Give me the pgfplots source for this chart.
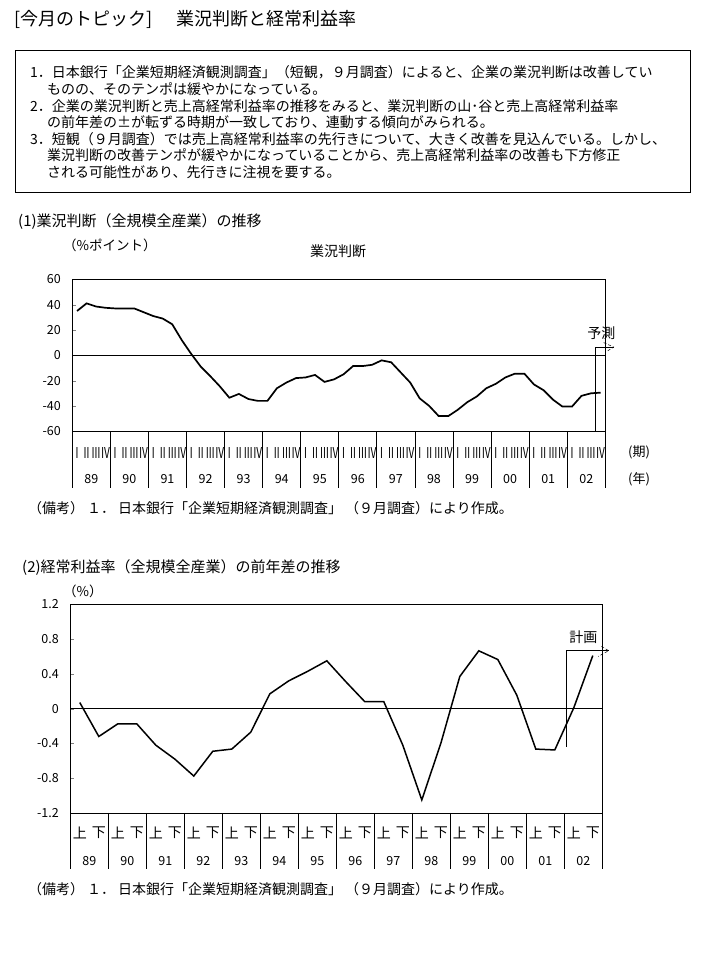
\documentclass[border=0pt]{standalone}
\usepackage{fontspec}
\setmainfont{Noto Sans CJK JP}
\newfontfamily\narrowfont[FakeStretch=0.66]{Noto Sans CJK JP}
\usepackage{pgfplots}
\pgfplotsset{compat=1.18}

\newcommand{\fs}[1]{\fontsize{#1}{#1}\selectfont}

\pgfplotsset{
  jpaxis/.style={
    scale only axis, anchor=south west, clip=false,
    axis line style={line width=0.8pt},
    tick align=inside, major tick length=3.5pt,
    ytick pos=left, xtick pos=bottom,
    xtick style={draw=none},
    tick label style={font=\fs{12.5}},
    yticklabel style={xshift=-8pt},
    /pgf/number format/assume math mode=true,
  }
}

\begin{document}
\begin{tikzpicture}[txt/.style={anchor=west, inner sep=0pt}]
\useasboundingbox (0,0) rectangle (707pt,959pt);

% title and summary box
\node[txt, font=\fs{18}] at (14pt,940pt) {[今月のトピック]};
\node[txt, font=\fs{18}] at (176pt,940pt) {業況判断と経常利益率};
\draw[line width=0.8pt] (15pt,909pt) rectangle (690pt,767pt);
\begin{scope}[every node/.append style={font=\fs{14}}]
\node[txt] at (30pt,887pt) {1．日本銀行「企業短期経済観測調査」（短観，９月調査）によると、企業の業況判断は改善してい};
\node[txt] at (47pt,870pt) {ものの、そのテンポは緩やかになっている。};
\node[txt] at (30pt,853pt) {2．企業の業況判断と売上高経常利益率の推移をみると、業況判断の山･谷と売上高経常利益率};
\node[txt] at (47pt,837pt) {の前年差の±が転ずる時期が一致しており、連動する傾向がみられる。};
\node[txt] at (30pt,820pt) {3．短観（９月調査）では売上高経常利益率の先行きについて、大きく改善を見込んでいる。しかし、};
\node[txt] at (47pt,804pt) {業況判断の改善テンポが緩やかになっていることから、売上高経常利益率の改善も下方修正};
\node[txt] at (47pt,787pt) {される可能性があり、先行きに注視を要する。};
\end{scope}

% ---- chart 1 ----
\node[txt, font=\fs{15}] at (18pt,737pt) {(1)業況判断（全規模全産業）の推移};
\node[txt, font=\fs{13.5}] at (63pt,714pt) {（\%ポイント）};
\node[font=\fs{14}] at (338pt,708pt) {業況判断};
\node[txt, font=\fs{13}] at (628pt,507pt) {(期)};
\node[txt, font=\fs{13}] at (628pt,480pt) {(年)};

\begin{axis}[jpaxis,
  at={(72.3pt,527.7pt)}, width=533pt, height=152pt,
  xmin=-0.5, xmax=55.5, ymin=-60, ymax=60,
  ytick={-60,-40,-20,0,20,40,60},
  yticklabels={-60,-40,-20,0,20,40,60},
  xtick={0,...,55},
  xticklabels={Ⅰ,Ⅱ,Ⅲ,Ⅳ,Ⅰ,Ⅱ,Ⅲ,Ⅳ,Ⅰ,Ⅱ,Ⅲ,Ⅳ,Ⅰ,Ⅱ,Ⅲ,Ⅳ,Ⅰ,Ⅱ,Ⅲ,Ⅳ,Ⅰ,Ⅱ,Ⅲ,Ⅳ,Ⅰ,Ⅱ,Ⅲ,Ⅳ,
               Ⅰ,Ⅱ,Ⅲ,Ⅳ,Ⅰ,Ⅱ,Ⅲ,Ⅳ,Ⅰ,Ⅱ,Ⅲ,Ⅳ,Ⅰ,Ⅱ,Ⅲ,Ⅳ,Ⅰ,Ⅱ,Ⅲ,Ⅳ,Ⅰ,Ⅱ,Ⅲ,Ⅳ,Ⅰ,Ⅱ,Ⅲ,Ⅳ},
  xticklabel style={anchor=center, yshift=-22pt, font=\fs{15}\narrowfont},
  extra x ticks={1.5,5.5,9.5,13.5,17.5,21.5,25.5,29.5,33.5,37.5,41.5,45.5,49.5,53.5},
  extra x tick labels={89,90,91,92,93,94,95,96,97,98,99,00,01,02},
  extra x tick style={tick style={draw=none}, xticklabel style={yshift=-26pt, font=\fs{12.5}}},
]
\draw[line width=0.7pt] (axis cs:-0.5,0) -- (axis cs:55.5,0);
\pgfplotsinvokeforeach{-0.5,3.5,7.5,11.5,15.5,19.5,23.5,27.5,31.5,35.5,39.5,43.5,47.5,51.5,55.5}{
  \draw[line width=0.8pt] (axis cs:#1,-60) -- ++(0pt,-57pt);
}
\addplot[black, line width=1.7pt] coordinates {
  (0,35) (1,41) (2,38.5) (3,37.5) (4,37) (5,37) (6,37) (7,34)
  (8,31) (9,29) (10,24.5) (11,12) (12,1) (13,-9) (14,-16.5) (15,-24.5)
  (16,-33.5) (17,-30.5) (18,-34.5) (19,-36) (20,-36) (21,-26) (22,-21.5) (23,-18)
  (24,-17.5) (25,-15.5) (26,-21) (27,-19) (28,-15) (29,-8.5) (30,-8.5) (31,-7.5)
  (32,-4) (33,-5.5) (34,-13.5) (35,-21.5) (36,-34) (37,-40) (38,-48) (39,-48)
  (40,-43) (41,-37) (42,-32.5) (43,-26) (44,-22.5) (45,-17.5) (46,-14.5) (47,-14.5)
  (48,-23) (49,-27.5) (50,-35) (51,-40.5) (52,-40.5) (53,-32) (54,-30) (55,-29.5)
};
\draw[line width=0.6pt] (axis cs:54.45,-60) |- (axis cs:56.38,6.5);
\draw[line width=0.5pt, densely dashed] (axis cs:55.33,10) -- (axis cs:56.38,6.5) -- (axis cs:55.6,2.8);
\node[font=\fs{14}] at (axis cs:55.1,17.6) {予測};
\end{axis}

\node[txt, font=\fs{14}] at (28pt,451pt) {（備考）\hspace{3pt}１．\hspace{3pt}日本銀行「企業短期経済観測調査」\hspace{3pt}（９月調査）により作成。};

% ---- chart 2 ----
\node[txt, font=\fs{15}] at (22pt,391pt) {(2)経常利益率（全規模全産業）の前年差の推移};
\node[txt, font=\fs{13.5}] at (63pt,368pt) {（\%）};

\begin{axis}[jpaxis,
  at={(70.3pt,146pt)}, width=532pt, height=208.7pt,
  xmin=-0.5, xmax=27.5, ymin=-1.2, ymax=1.2,
  ytick={-1.2,-0.8,-0.4,0,0.4,0.8,1.2},
  yticklabels={-1.2,-0.8,-0.4,0,0.4,0.8,1.2},
  xtick={0,...,27},
  xticklabels={上,下,上,下,上,下,上,下,上,下,上,下,上,下,
               上,下,上,下,上,下,上,下,上,下,上,下,上,下},
  xticklabel style={anchor=center, yshift=-20pt, font=\fs{14}},
  extra x ticks={0.5,2.5,4.5,6.5,8.5,10.5,12.5,14.5,16.5,18.5,20.5,22.5,24.5,26.5},
  extra x tick labels={89,90,91,92,93,94,95,96,97,98,99,00,01,02},
  extra x tick style={tick style={draw=none}, xticklabel style={yshift=-28pt, font=\fs{12.5}}},
]
\draw[line width=0.7pt] (axis cs:-0.5,0) -- (axis cs:27.5,0);
\pgfplotsinvokeforeach{-0.5,1.5,3.5,5.5,7.5,9.5,11.5,13.5,15.5,17.5,19.5,21.5,23.5,25.5,27.5}{
  \draw[line width=0.8pt] (axis cs:#1,-1.2) -- ++(0pt,-56pt);
}
\addplot[black, line width=1.5pt] coordinates {
  (0,0.07) (1,-0.32) (2,-0.175) (3,-0.175) (4,-0.42) (5,-0.58) (6,-0.775)
  (7,-0.49) (8,-0.465) (9,-0.27) (10,0.17) (11,0.32) (12,0.43) (13,0.55)
  (14,0.31) (15,0.08) (16,0.08) (17,-0.42) (18,-1.05) (19,-0.4) (20,0.37)
  (21,0.665) (22,0.565) (23,0.155) (24,-0.465) (25,-0.475) (26,0.01) (27,0.61)
};
\draw[line width=0.6pt] (axis cs:25.6,-0.44) |- (axis cs:27.84,0.667);
\draw[line width=0.5pt, densely dashed] (axis cs:27.45,0.715) -- (axis cs:27.84,0.667) -- (axis cs:27.28,0.60);
\node[font=\fs{14}] at (axis cs:26.5,0.82) {計画};
\end{axis}

\node[txt, font=\fs{14}] at (28pt,70pt) {（備考）\hspace{3pt}１．\hspace{3pt}日本銀行「企業短期経済観測調査」\hspace{3pt}（９月調査）により作成。};
\end{tikzpicture}
\end{document}
